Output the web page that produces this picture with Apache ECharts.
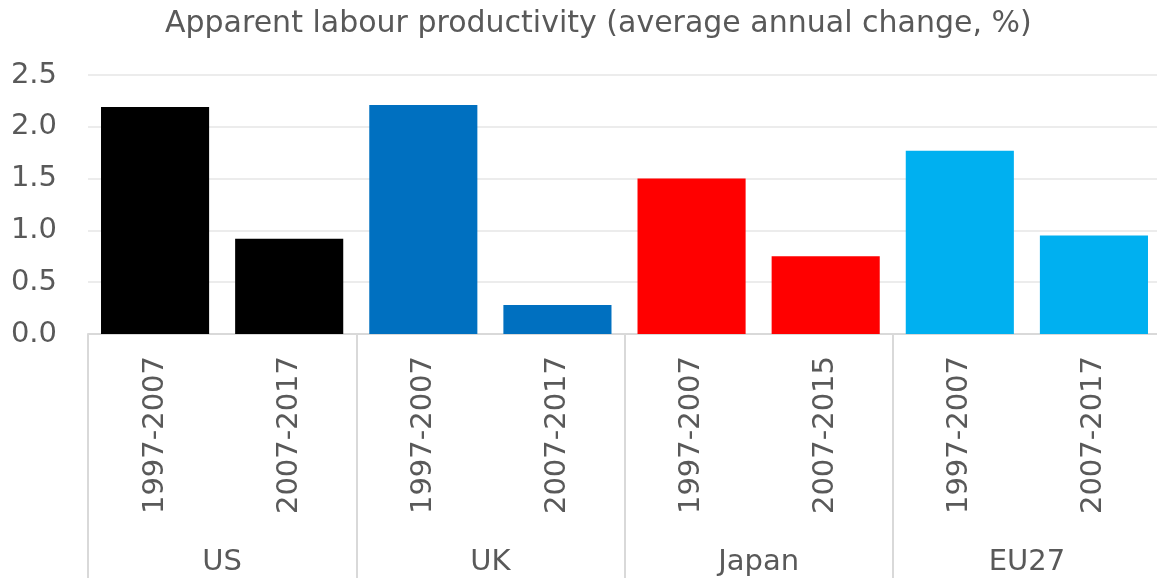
<!DOCTYPE html>
<html>
<head>
<meta charset="utf-8">
<script src="https://cdn.jsdelivr.net/npm/echarts@6/dist/echarts.min.js"></script>
<style>
  html, body { margin: 0; padding: 0; background: #fff; }
  #chart { width: 1157px; height: 578px; }
</style>
</head>
<body>
<div id="chart"></div>
<script>
const countries = ["US", "UK", "Japan", "EU27"];
const periods = ["1997-2007", "2007-2017", "1997-2007", "2007-2017", "1997-2007", "2007-2015", "1997-2007", "2007-2017"];
const values = [2.19, 0.92, 2.21, 0.28, 1.5, 0.75, 1.77, 0.95];
const yTicks = [0, 0.5, 1.0, 1.5, 2.0, 2.5];

// one colour per country, two bars each
const countryColors = ["#000000", "#0070C0", "#FF0000", "#00B0F0"];
const textColor = "#595959";
const font = "DejaVu Sans";

const chart = echarts.init(document.getElementById("chart"));

const option = {
  animation: false,
  title: {
    text: "Apparent labour productivity (average annual change, %)",
    left: 160,
    top: 4,
    textStyle: { fontFamily: font, fontSize: 30, fontWeight: "normal", color: textColor },
  },
  // plot runs a few px past the right edge, like the original
  grid: { left: 88, width: 1073, top: 75, bottom: 244, outerBoundsMode: "none" },
  xAxis: [
    {
      type: "category",
      data: periods,
      axisLine: { lineStyle: { color: "#d9d9d9", width: 2 } },
      axisTick: { show: false },
      axisLabel: {
        rotate: 90,
        margin: 22,
        fontFamily: font,
        fontSize: 29,
        color: textColor,
      },
    },
    {
      type: "category",
      data: countries,
      position: "bottom",
      axisLine: { show: false },
      axisTick: { show: true, length: 250, lineStyle: { color: "#d9d9d9", width: 2 } },
      axisLabel: { margin: 214, fontFamily: font, fontSize: 29, color: textColor },
    },
  ],
  yAxis: {
    type: "value",
    min: yTicks[0],
    max: yTicks[yTicks.length - 1],
    interval: 0.5,
    axisLine: { show: false },
    axisTick: { show: false },
    axisLabel: {
      margin: 31,
      fontFamily: font,
      fontSize: 29,
      color: textColor,
      formatter: (v) => v.toFixed(1),
    },
    splitLine: { lineStyle: { color: "#ececec", width: 2 } },
  },
  series: [
    {
      type: "bar",
      xAxisIndex: 0,
      barCategoryGap: "19.4%",
      data: values.map((v, i) => ({
        value: v,
        itemStyle: { color: countryColors[Math.floor(i / 2)] },
      })),
    },
  ],
};

chart.setOption(option);
</script>
</body>
</html>
